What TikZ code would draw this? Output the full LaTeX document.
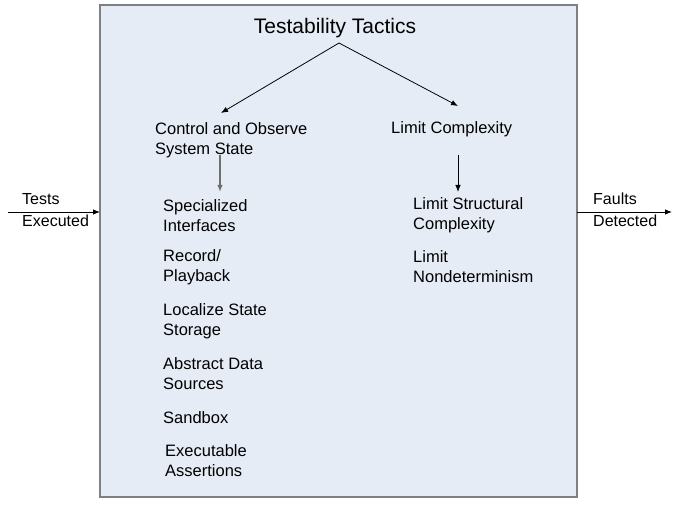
\documentclass[tikz,border=0pt]{standalone}
\usepackage{fontspec}
\setmainfont{Liberation Sans}
\usetikzlibrary{arrows.meta}
\definecolor{panel}{RGB}{230,236,246}
\definecolor{frame}{RGB}{128,128,128}
\definecolor{stem}{RGB}{110,110,110}
\tikzset{
  lbl/.style={inner sep=0pt, align=left, anchor=west,
    font=\fontsize{16.5}{20}\selectfont},
  arr/.style={line width=0.8pt, -{Latex[length=7pt,width=5.5pt]}},
}
\begin{document}
\begin{tikzpicture}[x=1pt,y=-1pt]
  \useasboundingbox (0,0) rectangle (681,508);
  % panel holding the tactics
  \draw[fill=panel, draw=frame, line width=1.4pt] (100,5) rectangle (577,497);
  \coordinate (panelW) at (100,212);
  \coordinate (panelE) at (577,212);

  \node[inner sep=0pt, font=\fontsize{21}{25}\selectfont] (title) at (335,28) {Testability Tactics};

  \node[lbl] (ctrl) at (155,140) {Control and Observe\\System State};
  \node[lbl] (limit) at (391,129) {Limit Complexity};

  \node[lbl] (spec) at (163,216) {Specialized\\Interfaces};
  \node[lbl] (rec) at (163,267) {Record/\\Playback};
  \node[lbl] (loc) at (163,321) {Localize State\\Storage};
  \node[lbl] (abs) at (163,373.5) {Abstract Data\\Sources};
  \node[lbl] (sand) at (163,417.5) {Sandbox};
  \node[lbl] (exe) at (165,461) {Executable\\Assertions};

  \node[lbl] (struct) at (413,215) {Limit Structural\\Complexity};
  \node[lbl] (nondet) at (413,266.5) {Limit\\Nondeterminism};

  \node[lbl, font=\fontsize{16}{22}\selectfont] (tests) at (22,210) {Tests\\Executed};
  \node[lbl, font=\fontsize{16}{22}\selectfont] (faults) at (593,210) {Faults\\Detected};

  % tree connectors
  \coordinate (fork) at (339,43);
  \coordinate (ctrlIn) at (221,113);
  \coordinate (limitIn) at (458,106);
  \draw[arr] (fork) -- (ctrlIn);
  \draw[arr] (fork) -- (limitIn);

  \coordinate (ctrlOut) at (220,155);
  \coordinate (specIn) at (220,192);
  \coordinate (limitOut) at (458,155);
  \coordinate (structIn) at (458,192);
  \draw[arr, draw=stem, line width=1.4pt] (ctrlOut) -- (specIn);
  \draw[arr] (limitOut) -- (structIn);

  % input and output
  \coordinate (inStart) at (8,212);
  \coordinate (outEnd) at (672,212);
  \draw[arr] (inStart) -- (panelW);
  \draw[arr] (panelE) -- (outEnd);
\end{tikzpicture}
\end{document}
